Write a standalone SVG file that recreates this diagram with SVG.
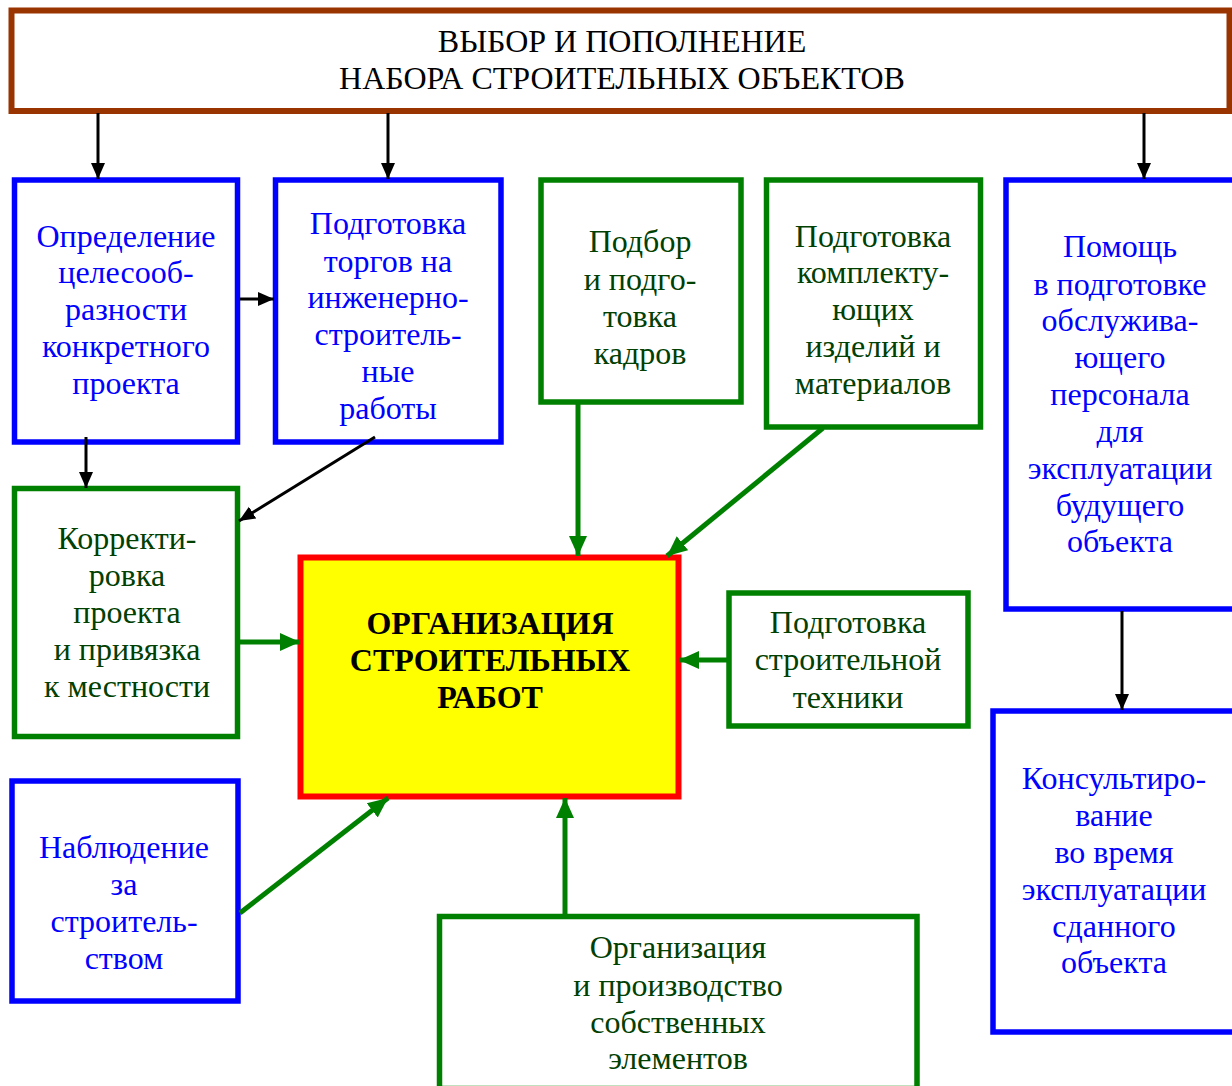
<svg xmlns="http://www.w3.org/2000/svg" width="1232" height="1086" viewBox="0 0 1232 1086">
<defs>
<style>
.t{font-family:"Liberation Serif","Times New Roman",serif;font-size:32px;text-anchor:middle}
.tb{fill:#0000ff}
.tg{fill:#004000}
.tk{fill:#000}
.bold{font-weight:bold}
.nb{fill:#fff;stroke:#0000ff;stroke-width:5.5}
.ng{fill:#fff;stroke:#008000;stroke-width:5.5}
.cb{stroke:#000;stroke-width:3;fill:none}
.cg{stroke:#008000;stroke-width:5;fill:none}
</style>
<marker id="ah" markerUnits="userSpaceOnUse" markerWidth="16" markerHeight="16" refX="16" refY="8" orient="auto">
<path d="M0,1 L16,8 L0,15 z" fill="#000"/>
</marker>
<marker id="ag" markerUnits="userSpaceOnUse" markerWidth="20" markerHeight="20" refX="20" refY="10" orient="auto">
<path d="M0,1 L20,10 L0,19 z" fill="#008000"/>
</marker>
</defs>
<rect width="1232" height="1086" fill="#fff"/>

<g id="top">
<rect x="11.5" y="10.5" width="1218" height="100.5" fill="#fff" stroke="#993300" stroke-width="6"/>
<text class="t tk" x="622" y="52">ВЫБОР И ПОПОЛНЕНИЕ</text>
<text class="t tk" x="622" y="89">НАБОРА СТРОИТЕЛЬНЫХ ОБЪЕКТОВ</text>
</g>

<g id="n1">
<rect class="nb" x="14.5" y="180" width="223" height="262"/>
<text class="t tb" x="126"><tspan x="126" y="247">Определение</tspan><tspan x="126" y="283">целесооб-</tspan><tspan x="126" y="320">разности</tspan><tspan x="126" y="357">конкретного</tspan><tspan x="126" y="394">проекта</tspan></text>
</g>

<g id="n2">
<rect class="nb" x="275.5" y="180" width="225.5" height="262"/>
<text class="t tb"><tspan x="388" y="234">Подготовка</tspan><tspan x="388" y="272">торгов на</tspan><tspan x="388" y="308">инженерно-</tspan><tspan x="388" y="345">строитель-</tspan><tspan x="388" y="382">ные</tspan><tspan x="388" y="419">работы</tspan></text>
</g>

<g id="n3">
<rect class="ng" x="541" y="180" width="200" height="222"/>
<text class="t tg"><tspan x="640" y="252">Подбор</tspan><tspan x="640" y="290">и подго-</tspan><tspan x="640" y="327">товка</tspan><tspan x="640" y="364">кадров</tspan></text>
</g>

<g id="n4">
<rect class="ng" x="766.5" y="180" width="214" height="247"/>
<text class="t tg"><tspan x="873" y="247">Подготовка</tspan><tspan x="873" y="283">комплекту-</tspan><tspan x="873" y="320">ющих</tspan><tspan x="873" y="357">изделий и</tspan><tspan x="873" y="394">материалов</tspan></text>
</g>

<g id="n5">
<rect class="nb" x="1006" y="180" width="232" height="429"/>
<text class="t tb"><tspan x="1120" y="257">Помощь</tspan><tspan x="1120" y="295">в подготовке</tspan><tspan x="1120" y="331">обслужива-</tspan><tspan x="1120" y="368">ющего</tspan><tspan x="1120" y="405">персонала</tspan><tspan x="1120" y="442">для</tspan><tspan x="1120" y="479">эксплуатации</tspan><tspan x="1120" y="516">будущего</tspan><tspan x="1120" y="552">объекта</tspan></text>
</g>

<g id="n6">
<rect class="nb" x="993" y="711" width="245" height="321"/>
<text class="t tb"><tspan x="1114" y="789">Консультиро-</tspan><tspan x="1114" y="826">вание</tspan><tspan x="1114" y="863">во время</tspan><tspan x="1114" y="900">эксплуатации</tspan><tspan x="1114" y="937">сданного</tspan><tspan x="1114" y="973">объекта</tspan></text>
</g>

<g id="n7">
<rect class="ng" x="14.5" y="488.5" width="223" height="248"/>
<text class="t tg"><tspan x="127" y="549">Корректи-</tspan><tspan x="127" y="586">ровка</tspan><tspan x="127" y="623">проекта</tspan><tspan x="127" y="660">и привязка</tspan><tspan x="127" y="697">к местности</tspan></text>
</g>

<g id="center">
<rect x="300.5" y="557.5" width="378" height="239" fill="#ffff00" stroke="#ff0000" stroke-width="6"/>
<text class="t tk bold"><tspan x="490" y="634">ОРГАНИЗАЦИЯ</tspan><tspan x="490" y="671">СТРОИТЕЛЬНЫХ</tspan><tspan x="490" y="708">РАБОТ</tspan></text>
</g>

<g id="n8">
<rect class="ng" x="729" y="593" width="239" height="133"/>
<text class="t tg"><tspan x="848" y="633">Подготовка</tspan><tspan x="848" y="670">строительной</tspan><tspan x="848" y="708">техники</tspan></text>
</g>

<g id="n9">
<rect class="nb" x="12" y="781" width="226" height="220"/>
<text class="t tb"><tspan x="124" y="858">Наблюдение</tspan><tspan x="124" y="895">за</tspan><tspan x="124" y="932">строитель-</tspan><tspan x="124" y="969">ством</tspan></text>
</g>

<g id="n10">
<rect class="ng" x="439.5" y="916.5" width="477.5" height="172"/>
<text class="t tg"><tspan x="678" y="958">Организация</tspan><tspan x="678" y="996">и производство</tspan><tspan x="678" y="1033">собственных</tspan><tspan x="678" y="1069">элементов</tspan></text>
</g>

<g id="connectors">
<line class="cb" x1="98" y1="113" x2="98" y2="179" marker-end="url(#ah)"/>
<line class="cb" x1="388" y1="113" x2="388" y2="179" marker-end="url(#ah)"/>
<line class="cb" x1="1144" y1="113" x2="1144" y2="179" marker-end="url(#ah)"/>
<line class="cb" x1="240" y1="299" x2="274" y2="299" marker-end="url(#ah)"/>
<line class="cb" x1="86" y1="437" x2="86" y2="488" marker-end="url(#ah)"/>
<line class="cb" x1="375" y1="437" x2="239" y2="521" marker-end="url(#ah)"/>
<line class="cb" x1="1122" y1="611" x2="1122" y2="710" marker-end="url(#ah)"/>
<line class="cg" x1="578" y1="403" x2="578" y2="556" marker-end="url(#ag)"/>
<line class="cg" x1="823" y1="428" x2="667" y2="556" marker-end="url(#ag)"/>
<line class="cg" x1="240" y1="642" x2="300" y2="642" marker-end="url(#ag)"/>
<line class="cg" x1="728" y1="660" x2="679" y2="660" marker-end="url(#ag)"/>
<line class="cg" x1="240" y1="913" x2="388" y2="798" marker-end="url(#ag)"/>
<line class="cg" x1="565" y1="915" x2="565" y2="798" marker-end="url(#ag)"/>
</g>
</svg>
